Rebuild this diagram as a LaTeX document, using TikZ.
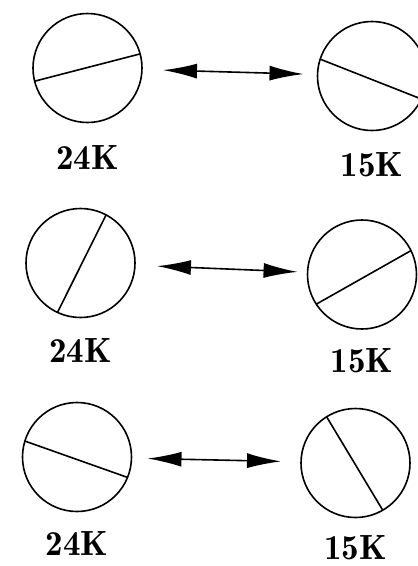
\documentclass[tikz,border=0pt]{standalone}
\usetikzlibrary{arrows.meta, positioning}

\begin{document}
\begin{tikzpicture}[x=1pt, y=-1pt, line width=1.6pt,
    grain/.style={draw, circle, minimum size=109pt, inner sep=0pt, outer sep=0pt},
    temp/.style={inner sep=0pt, font=\fontsize{35}{40}\fontseries{b}\selectfont},
    swap/.style={{Latex[length=34pt, width=15pt]}-{Latex[length=34pt, width=15pt]}}]
        \useasboundingbox (0,0) rectangle (418,566);
        \clip (0,0) rectangle (418,566);
        % first pair
        \node[grain] (a1) at (87.5,68) {};
        \node[grain] (b1) at (372,76) {};
        \draw (a1.194) -- (a1.15);
        \draw (b1.162) -- (b1.335);
        \node[temp, below=22pt of a1] (ta1) {24K};
        \node[temp, below=21pt of b1] (tb1) {15K};
        \draw[swap, shorten <=21pt, shorten >=14pt] (a1) -- (b1);
        % second pair
        \node[grain] (a2) at (80.5,263) {};
        \node[grain] (b2) at (362,274.5) {};
        \draw (a2.245) -- (a2.62.5);
        \draw (b2.213) -- (b2.26);
        \node[temp, below=20pt of a2] (ta2) {24K};
        \node[temp, below=19pt of b2] (tb2) {15K};
        \draw[swap, shorten <=22pt, shorten >=10pt] (a2) -- (b2);
        % third pair
        \node[grain] (a3) at (77,457) {};
        \node[grain] (b3) at (355.5,463) {};
        \draw (a3.163) -- (a3.338);
        \draw (b3.122) -- (b3.300.5);
        \node[temp, below=19pt of a3] (ta3) {24K};
        \node[temp, below=17pt of b3] (tb3) {15K};
        \draw[swap, shorten <=16pt, shorten >=20pt] (a3) -- (b3);
      \end{tikzpicture}
\end{document}
